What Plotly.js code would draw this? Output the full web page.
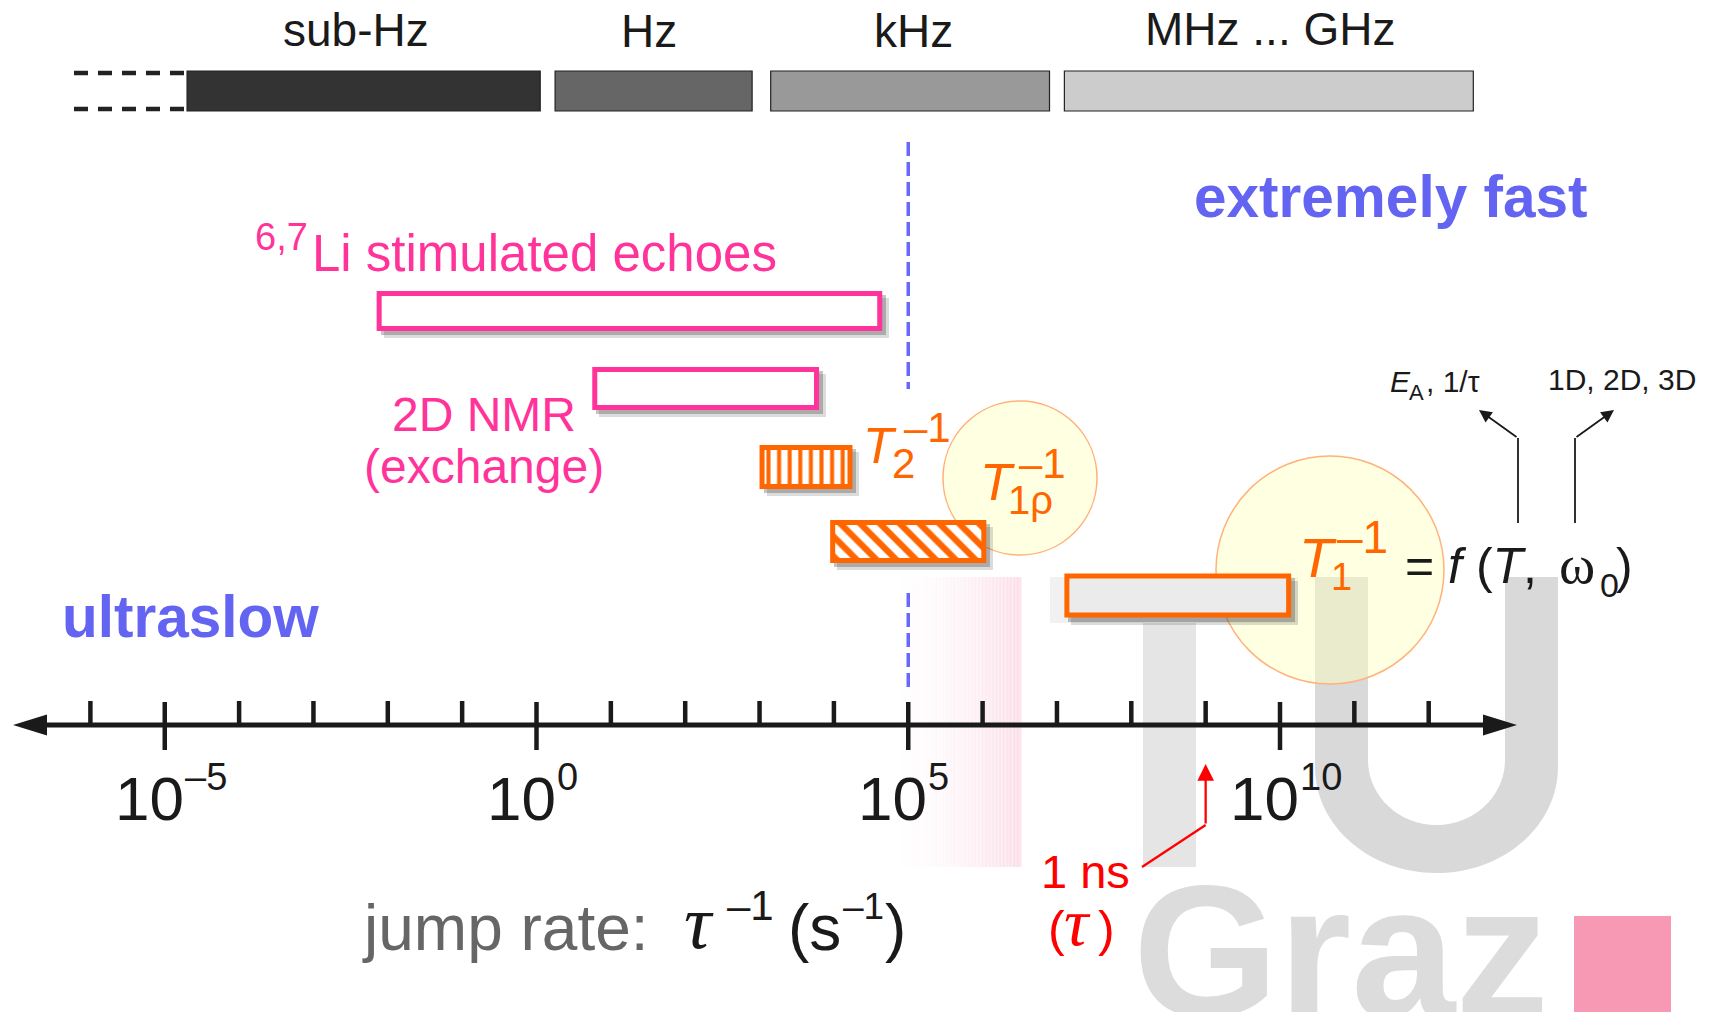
<!DOCTYPE html>
<html><head><meta charset="utf-8">
<script src="https://cdn.plot.ly/plotly-3.0.1.min.js"></script>
<style>html,body{margin:0;padding:0;background:#fff;} #chart{width:1718px;height:1012px;}</style>
</head><body><div id="chart"></div>
<script>
// ---------------- data ----------------
const bandLabels = ['sub-Hz', 'Hz', 'kHz', 'MHz ... GHz'];
const bandStart = [-4.7, 0.25, 3.15, 7.1];     // log10(rate) where each band starts
const bandEnd   = [0.05, 2.9, 6.9, 12.6];      // log10(rate) where each band ends

const methodNames = ['6,7Li stimulated echoes', '2D NMR (exchange)', 'T2^-1', 'T1rho^-1', 'T1^-1'];
const rateLow  = [-2.15, 0.75, 3.0, 3.95, 7.1];   // log10(tau^-1 / s^-1)
const rateHigh = [4.65, 3.8, 4.25, 6.05, 10.15];

const tickExponents  = [-6,-5,-4,-3,-2,-1,0,1,2,3,4,5,6,7,8,9,10,11,12];
const majorExponents = [-5, 0, 5, 10];
const boundaryExponent = 5;      // dashed ultraslow / fast boundary
const nanosecondExponent = 9;    // tau = 1 ns

// ---------------- layout helpers ----------------
const W = 1718, H = 1012;
const PX0 = 536.5, PXD = 74.35;           // pixel of 10^0, pixels per decade
const ex = px => (px - PX0) / PXD;
const P = px => px / W;
const SANS = 'Liberation Sans, Arial, sans-serif';
const SERIF = 'Liberation Serif, Times New Roman, serif';
const NARROW = 'Liberation Sans Narrow, Arial Narrow, Nimbus Sans Narrow, Liberation Sans, sans-serif';
const PINK = '#ff3399', ORANGE = '#ff6600', BLUE = '#6464f2', INK = '#1a1a1a';

function T(x, baseline, text, size, color, o) {
  o = o || {};
  const a = {
    yref: 'y', y: baseline + 0.212 * size, yanchor: 'bottom',
    xanchor: o.anchor || 'left', text: text, showarrow: false,
    borderpad: 0, borderwidth: 0,
    font: {size: size, color: color, family: o.family || SANS, weight: o.weight || 'normal'}
  };
  if (o.middle) { a.y = baseline - 0.3465 * size; a.yanchor = 'middle'; }
  if (o.xe !== undefined) { a.xref = 'x'; a.x = o.xe; a.xshift = o.xshift || 0; }
  else { a.xref = 'paper'; a.x = P(x); }
  return a;
}

// ---------------- traces ----------------
const traces = [];
const BAND_Y = 91, BAND_H = 40;
const bandColors = ['#333333', '#666666', '#999999', '#cccccc'];
traces.push({
  type: 'bar', orientation: 'h', hoverinfo: 'skip',
  y: bandStart.map(() => BAND_Y), base: bandStart,
  x: bandStart.map((s, i) => bandEnd[i] - s), width: bandStart.map(() => BAND_H),
  marker: {color: bandColors, line: {color: '#222', width: 1.2}}
});

const rowY = [311, 388.5, 467, 541.5, 595.5];
const rowH = [40, 43, 44, 43, 44];
const LW = 5;
const methodStyle = [
  {line: PINK, fill: '#ffffff'},
  {line: PINK, fill: '#ffffff'},
  {line: ORANGE, fill: '#ffffff', pattern: {shape: '|', fgcolor: ORANGE, bgcolor: '#ffffff', size: 10.6, solidity: 0.38}},
  {line: ORANGE, fill: '#ffffff', pattern: {shape: '\\', fgcolor: ORANGE, bgcolor: '#ffffff', size: 14, solidity: 0.45}},
  {line: ORANGE, fill: '#ebebeb'}
];
// drop shadows
[[7, 'rgba(60,60,60,0.18)'], [4, 'rgba(60,60,60,0.3)']].forEach(([off, col]) => {
  traces.push({
    type: 'bar', orientation: 'h', hoverinfo: 'skip',
    y: rowY.map(v => v + off), base: rateLow.map(v => v + off / PXD),
    x: rateLow.map((v, i) => rateHigh[i] - v), width: rowH,
    marker: {color: col, line: {width: 0}}
  });
});
methodNames.forEach((name, i) => {
  const st = methodStyle[i];
  const m = {color: st.fill, line: {color: st.line, width: LW}};
  if (st.pattern) m.pattern = st.pattern;
  traces.push({
    type: 'bar', orientation: 'h', name: name, hoverinfo: 'skip',
    y: [rowY[i]], base: [rateLow[i] + (LW / 2) / PXD],
    x: [rateHigh[i] - rateLow[i] - LW / PXD], width: [rowH[i] - LW],
    marker: m
  });
});

// jump-rate axis
const AX_Y = 725, AX_L = 13, AX_R = 1517, HEAD = 34, HALF = 10.5;
traces.push({type: 'scatter', mode: 'lines', hoverinfo: 'skip',
  x: [ex(AX_L + 10), ex(AX_R - 10)], y: [AX_Y, AX_Y], line: {color: INK, width: 5}});
traces.push({type: 'scatter', mode: 'lines', hoverinfo: 'skip', fill: 'toself', fillcolor: INK,
  x: [ex(AX_L), ex(AX_L + HEAD), ex(AX_L + HEAD), ex(AX_L)], y: [AX_Y, AX_Y - HALF, AX_Y + HALF, AX_Y], line: {width: 0, color: INK}});
traces.push({type: 'scatter', mode: 'lines', hoverinfo: 'skip', fill: 'toself', fillcolor: INK,
  x: [ex(AX_R), ex(AX_R - HEAD), ex(AX_R - HEAD), ex(AX_R)], y: [AX_Y, AX_Y - HALF, AX_Y + HALF, AX_Y], line: {width: 0, color: INK}});
const tx = [], ty = [];
tickExponents.forEach(e => {
  const major = majorExponents.includes(e);
  tx.push(e, e, null); ty.push(major ? 702 : 701, major ? 750 : AX_Y, null);
});
traces.push({type: 'scatter', mode: 'lines', hoverinfo: 'skip', x: tx, y: ty, line: {color: INK, width: 4.5}});

// dashed continuation of the sub-Hz band
traces.push({type: 'scatter', mode: 'lines', hoverinfo: 'skip',
  x: [ex(74), bandStart[0], null, ex(74), bandStart[0]], y: [73, 73, null, 109, 109],
  line: {color: '#222', width: 4.5, dash: '14px,10px'}});
// boundary line
traces.push({type: 'scatter', mode: 'lines', hoverinfo: 'skip',
  x: [boundaryExponent, boundaryExponent, null, boundaryExponent, boundaryExponent],
  y: [142, 389, null, 593, 690], line: {color: '#6868ff', width: 3.5, dash: '14px,6px'}});

// ---------------- shapes ----------------
const shapes = [];
const NS = 40;
for (let k = 0; k < NS; k++) {
  const x0 = 880 + k * 141 / NS, x1 = 880 + (k + 1) * 141 / NS + 0.6;
  const f = (k + 0.5) / NS;
  shapes.push({type: 'rect', layer: 'below', xref: 'paper', yref: 'y', x0: P(x0), x1: P(x1), y0: 577, y1: 867,
    fillcolor: 'rgba(245,150,180,' + (0.24 * f * f).toFixed(3) + ')', line: {width: 0}});
}
shapes.push({type: 'rect', layer: 'below', xref: 'paper', yref: 'y', x0: P(1050), x1: P(1298), y0: 577, y1: 623, fillcolor: '#f1f1f1', line: {width: 0}});
shapes.push({type: 'rect', layer: 'below', xref: 'paper', yref: 'y', x0: P(1143), x1: P(1196), y0: 623, y1: 867, fillcolor: '#e5e5e5', line: {width: 0}});
(function () {
  const k = 0.5523, cx = 1436.5;
  const oL = 1315, oR = 1558, iL = 1368, iR = 1505, top = 577;
  const oS = 767, oB = 873, iS = 760, iB = 825;
  const ow = cx - oL, iw = cx - iL, oh = oB - oS, ih = iB - iS;
  const pt = (x, y) => P(x).toFixed(5) + ',' + y.toFixed(2);
  const d = 'M' + pt(oL, top) + ' L' + pt(iL, top) + ' L' + pt(iL, iS) +
    ' C' + pt(iL, iS + k * ih) + ' ' + pt(cx - k * iw, iB) + ' ' + pt(cx, iB) +
    ' C' + pt(cx + k * iw, iB) + ' ' + pt(iR, iS + k * ih) + ' ' + pt(iR, iS) +
    ' L' + pt(iR, top) + ' L' + pt(oR, top) + ' L' + pt(oR, oS) +
    ' C' + pt(oR, oS + k * oh) + ' ' + pt(cx + k * ow, oB) + ' ' + pt(cx, oB) +
    ' C' + pt(cx - k * ow, oB) + ' ' + pt(oL, oS + k * oh) + ' ' + pt(oL, oS) + ' Z';
  shapes.push({type: 'path', layer: 'below', xref: 'paper', yref: 'y', path: d, fillcolor: '#d9d9d9', line: {width: 0}});
})();
shapes.push({type: 'rect', layer: 'below', xref: 'paper', yref: 'y', x0: P(1574), x1: P(1671), y0: 916, y1: 1015, fillcolor: '#f799b4', line: {width: 0}});
[[1020, 478, 77], [1330, 570, 114]].forEach(([cx, cy, r]) => {
  shapes.push({type: 'circle', layer: 'below', xref: 'paper', yref: 'y', x0: P(cx - r), x1: P(cx + r), y0: cy - r, y1: cy + r,
    fillcolor: 'rgba(255,255,190,0.45)', line: {color: '#ffb27a', width: 1.5}});
});
// black arrow stems
[1518, 1575].forEach(x => shapes.push({type: 'line', layer: 'above', xref: 'paper', yref: 'y', x0: P(x), x1: P(x), y0: 523, y1: 438, line: {color: INK, width: 1.8}}));
// red arrow diagonal
shapes.push({type: 'line', layer: 'above', xref: 'x', yref: 'y', x0: ex(1142), y0: 867, x1: nanosecondExponent, y1: 825, line: {color: '#ff0000', width: 2.3}});

// ---------------- annotations ----------------
const ann = [];
// watermark lettering (first, so everything else is drawn over it)
ann.push(T(1133, 1016, 'Graz', 187, '#dcdcdc', {weight: 'bold', middle: true}));

const labelShift = [-8, -5, 3, 1], labelBase = [46, 47, 47, 45];
bandLabels.forEach((t, i) => ann.push(T(0, labelBase[i], t, 46, INK, {anchor: 'center', xe: (bandStart[i] + bandEnd[i]) / 2, xshift: labelShift[i]})));

ann.push(T(1390, 217, 'extremely fast', 58.5, BLUE, {anchor: 'center', weight: 'bold'}));
ann.push(T(190, 637, 'ultraslow', 58.5, BLUE, {anchor: 'center', weight: 'bold'}));

ann.push(T(255, 250, '6,7', 38, PINK));
ann.push(T(312, 271, 'Li stimulated echoes', 51, PINK));
ann.push(T(484, 431, '2D NMR', 48, PINK, {anchor: 'center'}));
ann.push(T(484, 483, '(exchange)', 48, PINK, {anchor: 'center'}));

// T2^-1
ann.push(T(880, 463, '<i>T</i>', 50, ORANGE, {anchor: 'center'}));
ann.push(T(903, 478, '2', 42, ORANGE, {anchor: 'center'}));
ann.push(T(927, 442, '\u20131', 42, ORANGE, {anchor: 'center'}));
// T1rho^-1
ann.push(T(997, 500, '<i>T</i>', 52, ORANGE, {anchor: 'center'}));
ann.push(T(1030, 514, '1\u03c1', 40, ORANGE, {anchor: 'center'}));
ann.push(T(1042, 478, '\u20131', 42, ORANGE, {anchor: 'center'}));
// T1^-1 = f(T, w0)
ann.push(T(1318, 577, '<i>T</i>', 56, ORANGE, {anchor: 'center'}));
ann.push(T(1341, 590, '1', 38, ORANGE, {anchor: 'center'}));
ann.push(T(1362, 553, '\u20131', 46, ORANGE, {anchor: 'center'}));
ann.push(T(1405, 583, '= <i>f</i> (<i>T</i>,', 50, INK));
ann.push(T(1559, 583, '\u03c9', 55, INK, {family: SERIF}));
ann.push(T(1600, 597, '0', 34, INK));
ann.push(T(1616, 583, ')', 50, INK));
ann.push(T(1390, 392, '<i>E</i>', 30, INK));
ann.push(T(1409, 400, 'A', 22, INK));
ann.push(T(1426, 392, ', 1/\u03c4', 30, INK));
ann.push(T(1548, 390, '1D, 2D, 3D', 30, INK));
ann.push({xref: 'paper', yref: 'y', x: P(1479), y: 410, ax: 39, ay: 28, axref: 'pixel', ayref: 'pixel', text: '', showarrow: true,
  arrowhead: 2, arrowsize: 1.4, arrowwidth: 1.8, arrowcolor: INK, standoff: 0});
ann.push({xref: 'paper', yref: 'y', x: P(1614), y: 410, ax: -39, ay: 28, axref: 'pixel', ayref: 'pixel', text: '', showarrow: true,
  arrowhead: 2, arrowsize: 1.4, arrowwidth: 1.8, arrowcolor: INK, standoff: 0});

// tick labels
majorExponents.forEach(e => {
  ann.push(T(0, 820, '10', 62, INK, {anchor: 'right', xe: e, xshift: 19, family: NARROW}));
  ann.push(T(0, 790, (e < 0 ? '\u2013' + (-e) : String(e)), 38, INK, {anchor: 'left', xe: e, xshift: 20, family: NARROW}));
});

// axis title
ann.push(T(362, 950, 'jump rate:', 64, '#666666'));
ann.push(T(684, 948, '<i>\u03c4</i>', 76, INK, {family: SERIF}));
ann.push(T(727, 920, '\u20131', 42, INK));
ann.push(T(788, 950, '(s', 64, INK));
ann.push(T(843, 919, '\u20131', 37, INK));
ann.push(T(885, 950, ')', 64, INK));

// 1 ns marker
ann.push(T(1085, 888, '1 ns', 47, '#ff0000', {anchor: 'center'}));
ann.push(T(1048, 946, '(', 50, '#ff0000'));
ann.push(T(1064, 946, '<i>\u03c4</i>', 68, '#ff0000', {family: SERIF}));
ann.push(T(1098, 946, ')', 50, '#ff0000'));
ann.push({xref: 'x', yref: 'y', x: nanosecondExponent, y: 764, ax: 0, ay: 61, axref: 'pixel', ayref: 'pixel', text: '', showarrow: true,
  arrowhead: 2, arrowsize: 1.45, arrowwidth: 2.3, arrowcolor: '#ff0000', standoff: 0});

const layout = {
  width: W, height: H, margin: {l: 0, r: 0, t: 0, b: 0, pad: 0},
  paper_bgcolor: '#ffffff', plot_bgcolor: 'rgba(0,0,0,0)',
  showlegend: false, barmode: 'overlay', bargap: 0,
  font: {family: SANS, color: INK},
  xaxis: {range: [ex(0), ex(W)], visible: false, fixedrange: true},
  yaxis: {range: [H, 0], visible: false, fixedrange: true},
  shapes: shapes, annotations: ann
};
Plotly.newPlot('chart', traces, layout, {staticPlot: true, displayModeBar: false});
</script>
</body></html>
